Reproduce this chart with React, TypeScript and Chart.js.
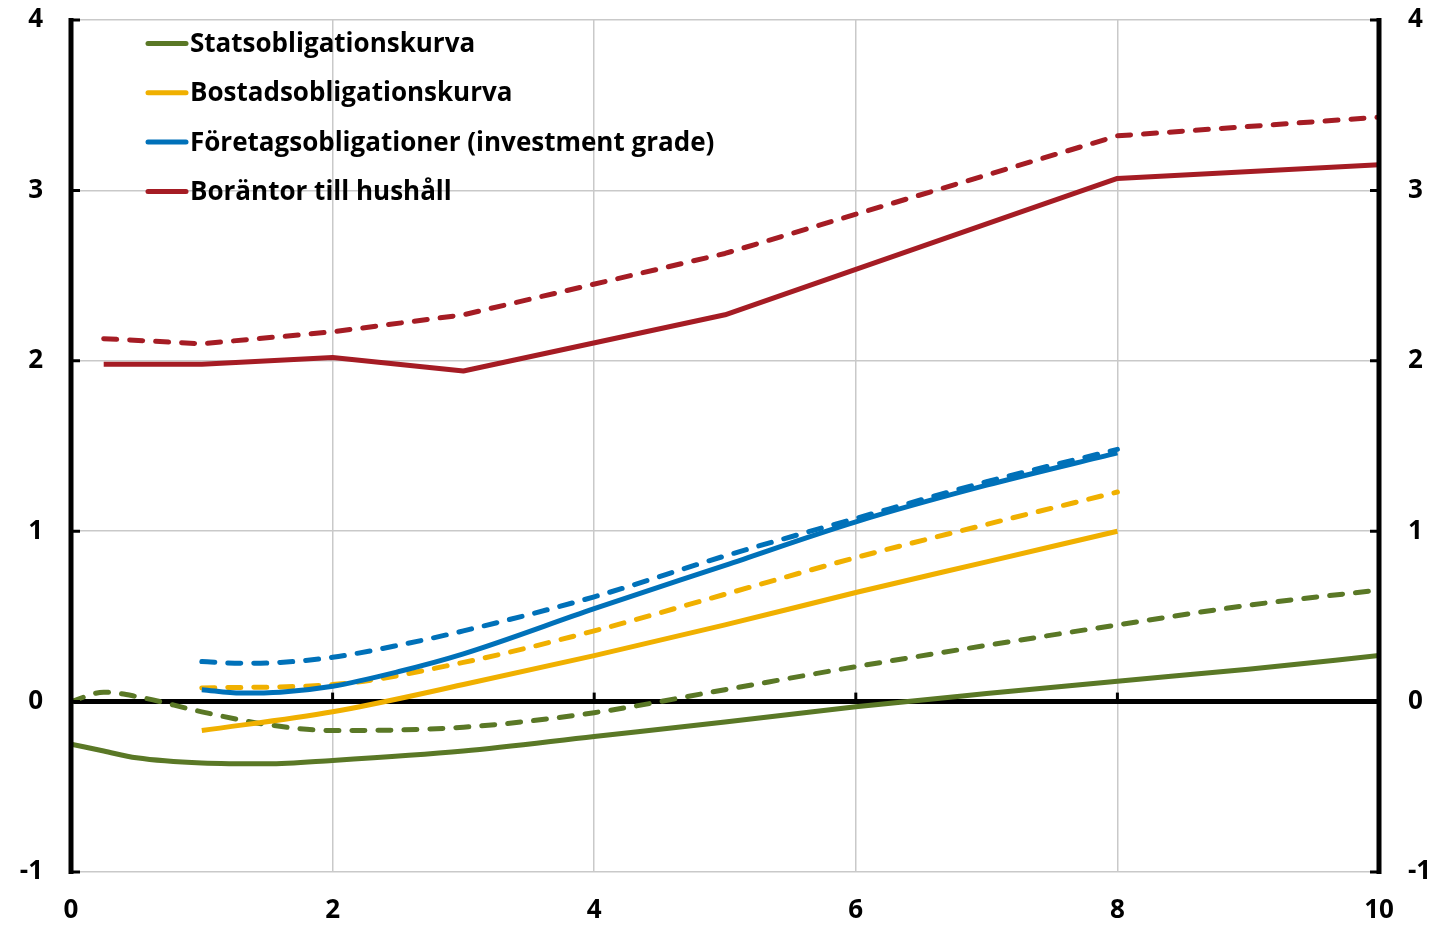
import React, { useEffect, useRef } from "react";
import { Chart, registerables } from "chart.js";

Chart.register(...registerables);

const xTicks = [0, 2, 4, 6, 8, 10];
const yTicks = [-1, 0, 1, 2, 3, 4];

const seriesNames = [
  "Statsobligationskurva",
  "Bostadsobligationskurva",
  "Företagsobligationer (investment grade)",
  "Boräntor till hushåll",
];
const seriesColors = ["#5a7826", "#f0b000", "#0071b9", "#a51c24"];

// Statsobligationskurva
const govX = [0, 0.25, 0.5, 1, 1.5, 2, 3, 4, 5, 6, 7, 8, 9, 10];
const govSolid = [-0.25, -0.29, -0.33, -0.36, -0.365, -0.345, -0.29, -0.205, -0.12, -0.03, 0.047, 0.12, 0.19, 0.27];
const govDashed = [0.0, 0.055, 0.03, -0.06, -0.135, -0.17, -0.15, -0.065, 0.07, 0.205, 0.33, 0.45, 0.565, 0.655];

// Bostadsobligationskurva
const mortX = [1, 2, 3, 4, 5, 6, 7, 8];
const mortSolid = [-0.17, -0.06, 0.1, 0.27, 0.45, 0.64, 0.82, 1.0];
const mortDashed = [0.08, 0.1, 0.23, 0.415, 0.63, 0.845, 1.04, 1.23];

// Företagsobligationer
const corpX = [1, 1.3, 1.6, 2, 2.5, 3, 4, 5, 6, 7, 8];
const corpSolid = [0.07, 0.05, 0.055, 0.09, 0.175, 0.28, 0.545, 0.8, 1.055, 1.27, 1.46];
const corpDashed = [0.235, 0.225, 0.23, 0.26, 0.33, 0.415, 0.615, 0.855, 1.075, 1.29, 1.48];

// Boräntor till hushåll
const mortRateX = [0.25, 1, 2, 3, 5, 8, 10];
const rateSolid = [1.98, 1.98, 2.02, 1.94, 2.27, 3.07, 3.15];
const rateDashed = [2.13, 2.1, 2.17, 2.27, 2.63, 3.32, 3.43];

const FONT = "'Open Sans', 'Noto Sans', sans-serif";
const FONT_SIZE = 26;

function pts(xs: number[], ys: number[]) {
  return xs.map((x, i) => ({ x, y: ys[i] }));
}

export default function App() {
  const ref = useRef<HTMLCanvasElement | null>(null);

  useEffect(() => {
    if (!ref.current) return;
    const mk = (label: string, xs: number[], ys: number[], color: string, dashed: boolean, tension: number, order: number) => ({
      label,
      data: pts(xs, ys),
      borderColor: color,
      backgroundColor: color,
      borderWidth: 5,
      borderDash: dashed ? [13, 13] : [],
      borderCapStyle: dashed ? "round" : "butt",
      borderJoinStyle: "round",
      pointRadius: 0,
      tension,
      cubicInterpolationMode: tension > 0 ? "monotone" : "default",
      fill: false,
      order,
    });

    const datasets: any[] = [
      mk(seriesNames[3], mortRateX, rateSolid, seriesColors[3], false, 0, 1),
      mk(seriesNames[3] + " (streckad)", mortRateX, rateDashed, seriesColors[3], true, 0, 2),
      mk(seriesNames[2], corpX, corpSolid, seriesColors[2], false, 0.4, 3),
      mk(seriesNames[2] + " (streckad)", corpX, corpDashed, seriesColors[2], true, 0.4, 4),
      mk(seriesNames[1], mortX, mortSolid, seriesColors[1], false, 0.4, 5),
      mk(seriesNames[1] + " (streckad)", mortX, mortDashed, seriesColors[1], true, 0.4, 6),
      mk(seriesNames[0], govX, govSolid, seriesColors[0], false, 0.4, 7),
      mk(seriesNames[0] + " (streckad)", govX, govDashed, seriesColors[0], true, 0.4, 8),
    ];

    const axesPlugin = {
      id: "axesPlugin",
      beforeDatasetsDraw(chart: any) {
        const { ctx, chartArea, scales } = chart;
        const xs = scales.x;
        const ys = scales.y;
        ctx.save();
        const y0 = ys.getPixelForValue(0);
        ctx.strokeStyle = "#000";
        ctx.lineWidth = 5;
        ctx.beginPath();
        ctx.moveTo(chartArea.left, y0);
        ctx.lineTo(chartArea.right, y0);
        ctx.stroke();
        ctx.lineWidth = 3;
        xTicks.forEach((v) => {
          const px = xs.getPixelForValue(v);
          ctx.beginPath();
          ctx.moveTo(px, y0);
          ctx.lineTo(px, y0 - 9);
          ctx.stroke();
        });
        ctx.restore();
      },
      afterDatasetsDraw(chart: any) {
        const { ctx, chartArea, scales } = chart;
        const ys = scales.y;
        ctx.save();
        ctx.strokeStyle = "#000";
        ctx.lineWidth = 5;
        ctx.lineCap = "butt";
        [chartArea.left, chartArea.right].forEach((px) => {
          ctx.beginPath();
          ctx.moveTo(px, ys.getPixelForValue(4) - 2);
          ctx.lineTo(px, ys.getPixelForValue(-1) + 2);
          ctx.stroke();
        });
        ctx.lineWidth = 3;
        yTicks.forEach((v) => {
          const py = ys.getPixelForValue(v);
          ctx.beginPath();
          ctx.moveTo(chartArea.left, py);
          ctx.lineTo(chartArea.left + 9, py);
          ctx.moveTo(chartArea.right, py);
          ctx.lineTo(chartArea.right - 9, py);
          ctx.stroke();
        });
        // y tick labels, positioned by the y scale
        ctx.font = `bold ${FONT_SIZE}px ${FONT}`;
        ctx.fillStyle = "#000";
        ctx.textBaseline = "middle";
        ys.ticks.forEach((t: any) => {
          const py = ys.getPixelForValue(t.value);
          const label = String(t.value);
          ctx.textAlign = "right";
          ctx.fillText(label, chartArea.left - 28, py);
          ctx.textAlign = "left";
          ctx.fillText(label, chartArea.right + 29, py);
        });
        // legend
        ctx.textAlign = "left";
        seriesNames.forEach((name, i) => {
          const ly = 43.5 + i * 49.3;
          ctx.strokeStyle = seriesColors[i];
          ctx.lineWidth = 5;
          ctx.lineCap = "round";
          ctx.beginPath();
          ctx.moveTo(148, ly);
          ctx.lineTo(186, ly);
          ctx.stroke();
          ctx.fillStyle = "#000";
          ctx.fillText(name, 190, ly + 1);
        });
        ctx.restore();
      },
    };

    const chart = new Chart(ref.current, {
      type: "line",
      data: { datasets },
      options: {
        animation: false,
        responsive: false,
        maintainAspectRatio: false,
        layout: { padding: { top: 20, left: 0, right: 0, bottom: 0 } },
        plugins: { legend: { display: false }, tooltip: { enabled: false } },
        scales: {
          x: {
            type: "linear",
            min: 0,
            max: 10,
            afterFit: (s: any) => { s.height = 54; },
            afterBuildTicks: (s: any) => { s.ticks = xTicks.map((v) => ({ value: v })); },
            ticks: { color: "#000", padding: 23, font: { family: FONT, size: FONT_SIZE, weight: "bold" }, maxRotation: 0 },
            grid: {
              drawTicks: false,
              color: (c: any) => (c.tick && (c.tick.value === 0 || c.tick.value === 10) ? "rgba(0,0,0,0)" : "#c9c9c9"),
              lineWidth: 1.5,
            },
            border: { display: false },
          },
          y: {
            type: "linear",
            position: "left",
            min: -1,
            max: 4,
            afterFit: (s: any) => { s.width = 71; },
            afterBuildTicks: (s: any) => { s.ticks = yTicks.map((v) => ({ value: v })); },
            ticks: { display: false },
            grid: {
              drawTicks: false,
              color: (c: any) => (c.tick && c.tick.value === 0 ? "rgba(0,0,0,0)" : "#c9c9c9"),
              lineWidth: 1.5,
            },
            border: { display: false },
          },
          y2: {
            type: "linear",
            position: "right",
            min: -1,
            max: 4,
            afterFit: (s: any) => { s.width = 61; },
            afterBuildTicks: (s: any) => { s.ticks = yTicks.map((v) => ({ value: v })); },
            ticks: { display: false },
            grid: { display: false, drawTicks: false },
            border: { display: false },
          },
        },
      },
      plugins: [axesPlugin],
    } as any);
    return () => chart.destroy();
  }, []);

  return (
    <div style={{ position: "fixed", left: 0, top: 0, width: 1440, height: 926, background: "#fff" }}>
      <canvas ref={ref} width={1440} height={926} style={{ width: 1440, height: 926, display: "block" }} />
    </div>
  );
}
